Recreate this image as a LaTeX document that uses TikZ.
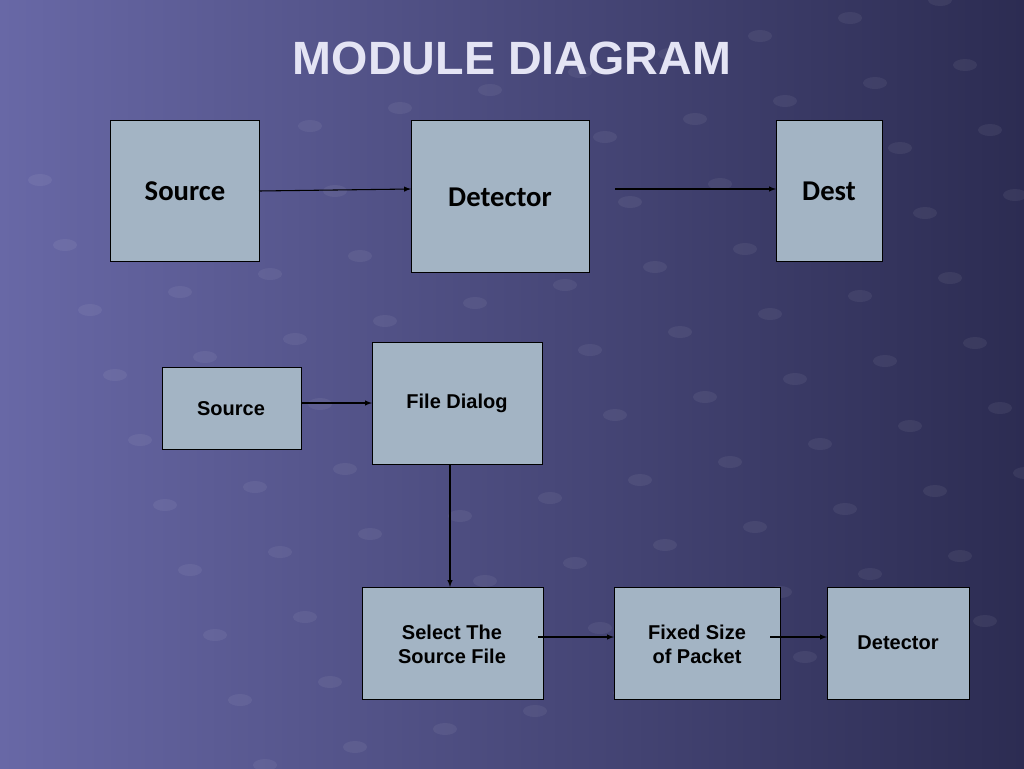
\documentclass[tikz,border=0pt]{standalone}
\usepackage{fontspec}
\setmainfont{Liberation Sans}
\newfontfamily\calib{Carlito}
\begin{document}
\begin{tikzpicture}[x=0.75pt,y=-0.75pt,
  box/.style={draw=black,fill=boxc,line width=0.6pt,anchor=north west,inner sep=0pt},
  lab/.style={font=\bfseries\fontsize{15}{18}\selectfont,align=center},
  clab/.style={font=\calib\bfseries\fontsize{21.5}{24}\selectfont},
  arr/.style={-latex,line width=0.8pt}]
\definecolor{boxc}{HTML}{A3B4C4}
\definecolor{bgA}{HTML}{6868A6}
\definecolor{bgB}{HTML}{2C2C52}
\definecolor{titc}{HTML}{E4E4F4}
\useasboundingbox (0,0) rectangle (1024,768);
\shade[shading angle=135,left color=bgA,right color=bgB] (0,0) rectangle (1024,768);
\foreach \i in {0,...,11}{\foreach \j in {0,...,9}{
  \fill[white,opacity=0.06] ({40+\i*90+\j*25},{180+\j*65-\i*18}) ellipse (12 and 6);}}
\node[font=\bfseries\fontsize{35}{40}\selectfont,text=titc] (title) at (512,58) {MODULE DIAGRAM};
% top row
\node[box,minimum width=149*0.75pt,minimum height=141*0.75pt] (s1) at (110,120) {};
\node[box,minimum width=178*0.75pt,minimum height=152*0.75pt] (d1) at (411,120) {};
\node[box,minimum width=106*0.75pt,minimum height=141*0.75pt] (de) at (776,120) {};
\node[clab] (s1t) at (185,191) {Source};
\node[clab] (d1t) at (500,197) {Detector};
\node[clab] (det) at (829,191) {Dest};
\coordinate (a1) at (259,191);
\coordinate (a2) at (411,189);
\coordinate (a3) at (615,189);
\coordinate (a4) at (776,189);
\draw[arr] (a1) -- (a2);
\draw[arr] (a3) -- (a4);
% lower
\node[box,minimum width=139*0.75pt,minimum height=82*0.75pt] (s2) at (162,367) {};
\node[lab] at (231,409) {Source};
\node[box,minimum width=170*0.75pt,minimum height=122*0.75pt] (fd) at (372,342) {};
\node[lab] at (457,403) {File Dialog};
\node[box,minimum width=181*0.75pt,minimum height=112*0.75pt] (sel) at (362,587) {};
\node[lab] at (452,644) {Select The\\ Source File};
\node[box,minimum width=166*0.75pt,minimum height=112*0.75pt] (fx) at (614,587) {};
\node[lab] at (697,644) {Fixed Size\\ of Packet};
\node[box,minimum width=142*0.75pt,minimum height=112*0.75pt] (d2) at (827,587) {};
\node[lab] at (898,643) {Detector};
\coordinate (b1) at (301,403);
\coordinate (b2) at (372,403);
\coordinate (c1) at (450,464);
\coordinate (c2) at (450,587);
\coordinate (e1) at (538,637);
\coordinate (e2) at (614,637);
\coordinate (f1) at (770,637);
\coordinate (f2) at (827,637);
\draw[arr] (b1) -- (b2);
\draw[arr] (c1) -- (c2);
\draw[arr] (e1) -- (e2);
\draw[arr] (f1) -- (f2);
\end{tikzpicture}
\end{document}
